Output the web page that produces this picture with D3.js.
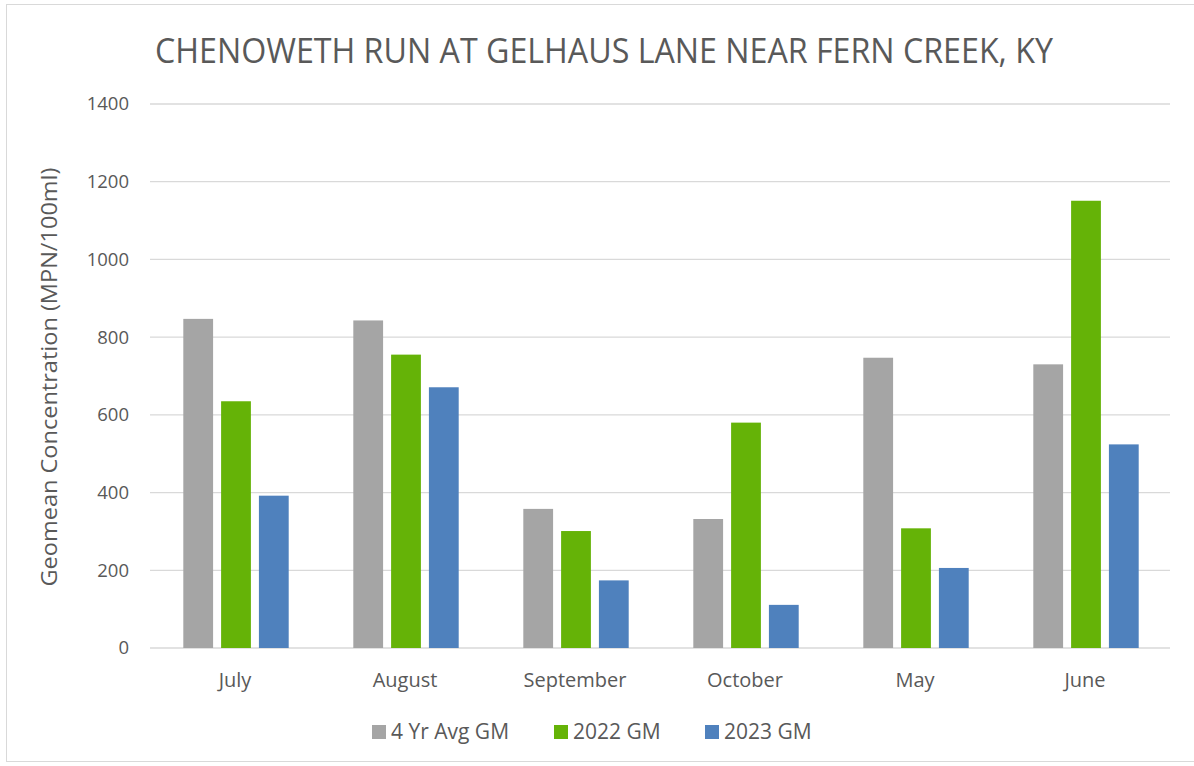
<!DOCTYPE html>
<html>
<head>
<meta charset="utf-8">
<script src="https://cdn.jsdelivr.net/npm/d3@7"></script>
<style>
  body { margin: 0; background: #fff; }
  text { font-family: "Open Sans", "Noto Sans", sans-serif; fill: #595959; }
</style>
</head>
<body>
<div id="chart"></div>
<script>
const months = ["July", "August", "September", "October", "May", "June"];
const seriesNames = ["4 Yr Avg GM", "2022 GM", "2023 GM"];
const avg4yr = [847, 843, 358, 332, 747, 730];
const gm2022 = [635, 755, 301, 580, 308, 1151];
const gm2023 = [392, 671, 174, 111, 206, 524];
const yTicks = [0, 200, 400, 600, 800, 1000, 1200, 1400];
const colors = ["#A5A5A5", "#65B307", "#4F81BD"];

const w = 1194;
const h = 766;
const plotLeft = 150, plotRight = 1170, plotTop = 104, plotBottom = 648;

const svg = d3.select("#chart").append("svg")
  .attr("width", w)
  .attr("height", h);

// chart frame
svg.append("rect")
  .attr("x", 6.5).attr("y", 4.5)
  .attr("width", w).attr("height", 757)
  .attr("fill", "none")
  .attr("stroke", "#D9D9D9");

const x0 = d3.scaleBand().domain(months).range([plotLeft, plotRight]);
const x1 = d3.scaleBand().domain(seriesNames)
  .range([33.3, 138.7])
  .paddingInner(0.212);
const y = d3.scaleLinear().domain([0, 1400]).range([plotBottom, plotTop]);

// gridlines
svg.append("g")
  .selectAll("line")
  .data(yTicks)
  .join("line")
  .attr("x1", plotLeft).attr("x2", plotRight)
  .attr("y1", d => y(d)).attr("y2", d => y(d))
  .attr("stroke", "#D9D9D9")
  .attr("stroke-width", 1.3);

// y axis labels
const yAxis = d3.axisLeft(y).tickValues(yTicks).tickFormat(d3.format("d")).tickSize(0).tickPadding(0);
svg.append("g")
  .attr("transform", "translate(129,0)")
  .call(yAxis)
  .call(g => g.select(".domain").remove())
  .selectAll("text")
  .attr("font-size", 18.5)
  .attr("font-family", "Open Sans, Noto Sans, sans-serif")
  .attr("fill", "#595959");

// bars
const rows = months.map((m, i) => ({ month: m, values: [avg4yr[i], gm2022[i], gm2023[i]] }));

const groups = svg.append("g")
  .selectAll("g")
  .data(rows)
  .join("g")
  .attr("transform", d => "translate(" + x0(d.month) + ",0)");

groups.selectAll("rect")
  .data(d => d.values.map((v, j) => ({ name: seriesNames[j], value: v, color: colors[j] })))
  .join("rect")
  .attr("x", d => x1(d.name))
  .attr("width", x1.bandwidth())
  .attr("y", d => y(d.value))
  .attr("height", d => y(0) - y(d.value))
  .attr("fill", d => d.color);

// x axis labels
const xAxis = d3.axisBottom(x0).tickSize(0).tickPadding(0);
svg.append("g")
  .attr("transform", "translate(0," + (plotBottom + 25) + ")")
  .call(xAxis)
  .call(g => g.select(".domain").remove())
  .selectAll("text")
  .attr("font-size", 20)
  .attr("font-family", "Open Sans, Noto Sans, sans-serif")
  .attr("fill", "#595959");

// title
svg.append("text")
  .attr("x", 604)
  .attr("y", 63)
  .attr("text-anchor", "middle")
  .attr("font-size", 35)
  .attr("textLength", 898)
  .attr("lengthAdjust", "spacingAndGlyphs")
  .text("CHENOWETH RUN AT GELHAUS LANE NEAR FERN CREEK, KY");

// y axis title
svg.append("text")
  .attr("transform", "translate(57,377) rotate(-90)")
  .attr("text-anchor", "middle")
  .attr("font-size", 22)
  .attr("textLength", 419)
  .attr("lengthAdjust", "spacingAndGlyphs")
  .text("Geomean Concentration (MPN/100ml)");

// legend
const legendX = [372, 554, 705];
const legend = svg.append("g")
  .selectAll("g")
  .data(seriesNames)
  .join("g")
  .attr("transform", (d, i) => "translate(" + legendX[i] + ",725)");

legend.append("rect")
  .attr("width", 14).attr("height", 14)
  .attr("fill", (d, i) => colors[i]);

legend.append("text")
  .attr("x", 19)
  .attr("y", 14)
  .attr("font-size", 21)
  .text(d => d);
</script>
</body>
</html>
